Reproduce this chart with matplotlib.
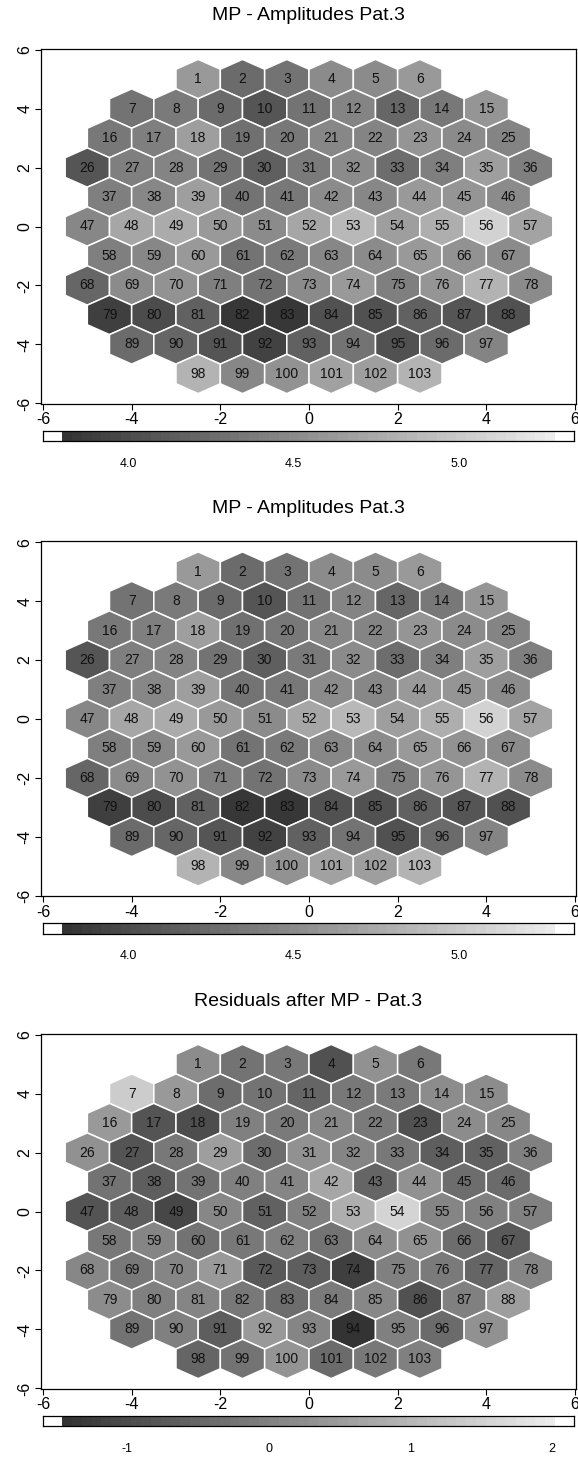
import numpy as np
import matplotlib
matplotlib.use("Agg")
import matplotlib.pyplot as plt
from matplotlib.collections import PolyCollection
from matplotlib.colors import LinearSegmentedColormap, Normalize

plt.rcParams['font.family'] = ['Liberation Sans', 'DejaVu Sans']

# hexagon rows, top to bottom (103 hexes)
row_counts = [6, 9, 10, 11, 10, 11, 10, 11, 10, 9, 6]
row_y = [5, 4, 3, 2, 1, 0, -1, -2, -3, -4, -5]

# amplitudes of pattern 3
amp_pat3 = [
    4.62, 4.25, 4.31, 4.51, 4.51, 4.62,
    4.31, 4.37, 4.25, 4.07, 4.31, 4.45, 4.21, 4.35, 4.58,
    4.35, 4.41, 4.66, 4.29, 4.35, 4.47, 4.45, 4.58, 4.51, 4.45,
    4.07, 4.41, 4.45, 4.31, 4.15, 4.37, 4.51, 4.27, 4.41, 4.66, 4.41,
    4.41, 4.47, 4.66, 4.31, 4.35, 4.51, 4.47, 4.62, 4.58, 4.51,
    4.47, 4.72, 4.76, 4.62, 4.51, 4.72, 4.86, 4.66, 4.78, 5.07, 4.70,
    4.41, 4.47, 4.62, 4.31, 4.37, 4.47, 4.51, 4.62, 4.56, 4.51,
    4.21, 4.51, 4.56, 4.41, 4.31, 4.51, 4.62, 4.41, 4.58, 4.82, 4.51,
    3.90, 4.00, 4.17, 3.84, 3.84, 4.04, 4.04, 4.17, 4.07, 4.04,
    4.25, 4.21, 4.07, 3.92, 4.17, 4.31, 4.04, 4.25, 4.45,
    4.82, 4.47, 4.56, 4.68, 4.66, 4.82,
]

# residuals after MP
resid_pat3 = [
    0.21, -0.27, -0.17, -0.89, 0.30, -0.17,
    1.40, 0.45, -0.36, -0.27, -0.51, -0.17, -0.13, 0.21, 0.21,
    0.45, -0.84, -0.98, -0.03, -0.13, 0.11, -0.13, -0.89, 0.21, 0.11,
    0.30, -0.84, -0.17, 0.54, -0.36, 0.30, 0.07, -0.17, -0.65, -0.60, -0.03,
    -0.27, -0.65, -0.27, -0.03, 0.07, 0.69, -0.51, 0.30, -0.36, -0.41,
    -0.84, -0.65, -1.08, 0.11, -0.60, -0.03, 0.83, 1.54, 0.07, -0.03, -0.03,
    -0.17, 0.07, -0.27, -0.17, -0.03, -0.27, 0.21, 0.30, -0.36, -0.75,
    0.11, -0.17, 0.07, 0.45, -0.75, -0.65, -1.22, -0.03, -0.13, -0.51, 0.07,
    0.21, -0.03, 0.07, -0.17, -0.36, -0.13, 0.11, -0.89, -0.03, 0.54,
    -0.27, -0.03, -0.65, 0.45, 0.07, -1.46, -0.03, -0.41, 0.30,
    -0.51, -0.27, 0.35, -0.41, -0.17, -0.03,
]

titles = ["MP - Amplitudes Pat.3", "MP - Amplitudes Pat.3", "Residuals after MP - Pat.3"]
axis_ticks = [-6, -4, -2, 0, 2, 4, 6]
amp_range = (3.80, 5.29)
amp_ticks = [4.0, 4.5, 5.0]
amp_ticklabels = ["4.0", "4.5", "5.0"]
resid_range = (-1.46, 2.02)
resid_ticks = [-1, 0, 1, 2]
resid_ticklabels = ["-1", "0", "1", "2"]

gray_map = LinearSegmentedColormap.from_list("greys", [(0.2, 0.2, 0.2), (0.93, 0.93, 0.93)])

# hex centres
hx, hy = [], []
for n, y in zip(row_counts, row_y):
    for i in range(n):
        hx.append(i - (n - 1) / 2)
        hy.append(y)
hx = np.array(hx)
hy = np.array(hy)
shape = np.array([(0, 2/3), (0.5, 1/3), (0.5, -1/3), (0, -2/3), (-0.5, -1/3), (-0.5, 1/3)])
verts = [shape + (x, y) for x, y in zip(hx, hy)]

W, H = 578, 1461
fig = plt.figure(figsize=(W / 100, H / 100), dpi=100)

panels = [(amp_pat3, amp_range, amp_ticks, amp_ticklabels),
          (amp_pat3, amp_range, amp_ticks, amp_ticklabels),
          (resid_pat3, resid_range, resid_ticks, resid_ticklabels)]

for k, (vals, (lo, hi), cticks, clabels) in enumerate(panels):
    off = 492.5 * k
    norm = Normalize(lo, hi)

    # main hex map
    top, bot, left, right = 49 + off, 404 + off, 41, 576
    ax = fig.add_axes([left / W, 1 - bot / H, (right - left) / W, (bot - top) / H])
    pc = PolyCollection(verts, array=np.array(vals), cmap=gray_map, norm=norm,
                        edgecolors="white", linewidths=1.1)
    ax.add_collection(pc)
    for i, (x, y) in enumerate(zip(hx, hy)):
        ax.text(x, y, str(i + 1), ha="center", va="center", fontsize=10, color="#111111")
    ax.set_xlim(-6.045, 6.023)
    ax.set_ylim(-6.02, 6.02)
    ax.set_xticks(axis_ticks)
    ax.set_yticks(axis_ticks)
    ax.set_xticklabels([str(t) for t in axis_ticks])
    ax.set_yticklabels([str(t) for t in axis_ticks], rotation=90, va="center")
    ax.tick_params(direction="out", length=4, width=0.8, labelsize=11.5, pad=2)
    for s in ax.spines.values():
        s.set_linewidth(0.9)
    fig.text(308.5 / W, 1 - (16 + off) / H, titles[k], ha="center", va="center", fontsize=14)

    # colour key
    ctop = 431 + off
    cax = fig.add_axes([43 / W, 1 - (ctop + 10) / H, 531 / W, 10 / H])
    edges = np.linspace(lo, hi, 51)
    mids = (edges[:-1] + edges[1:]) / 2
    cax.pcolormesh(edges, [0, 1], mids[None, :], cmap=gray_map, norm=norm)
    pad = (hi - lo) * 19 / 493
    cax.set_xlim(lo - pad, hi + pad)
    cax.set_ylim(0, 1)
    cax.set_yticks([])
    cax.set_xticks(cticks)
    cax.set_xticklabels(clabels)
    cax.tick_params(length=0, labelsize=9, pad=12)
    for s in cax.spines.values():
        s.set_linewidth(0.9)

fig.savefig("out.png", dpi=100)
